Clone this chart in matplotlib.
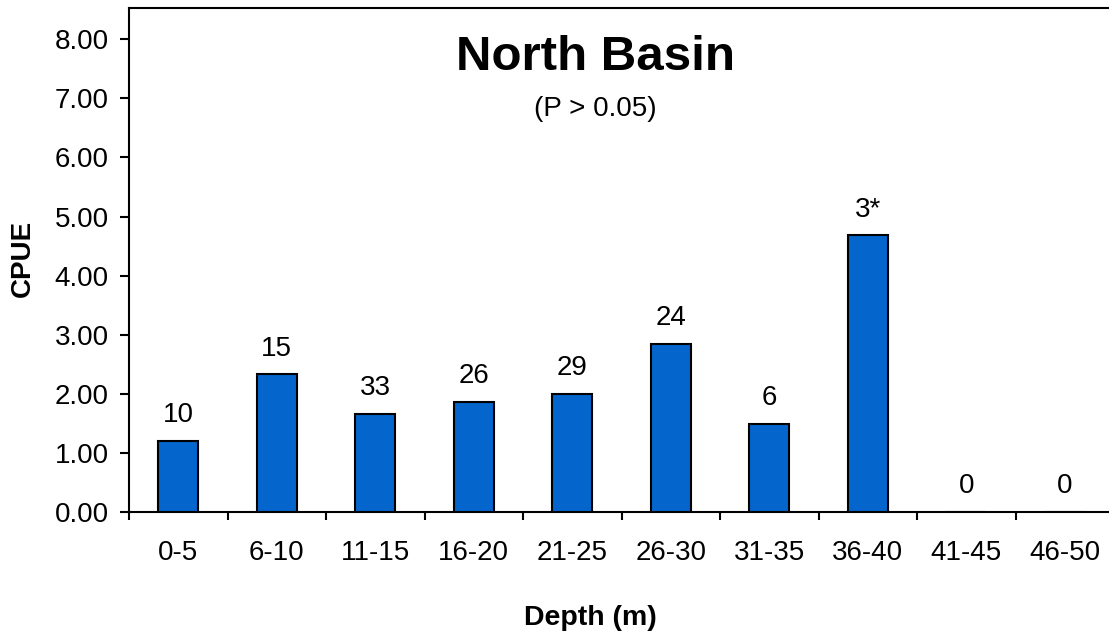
import matplotlib
matplotlib.use("Agg")
import matplotlib.pyplot as plt
import numpy as np

plt.rcParams['font.family'] = ['Liberation Sans', 'DejaVu Sans']

# data
depths = ['0-5', '6-10', '11-15', '16-20', '21-25', '26-30', '31-35', '36-40', '41-45', '46-50']
cpue = [1.21, 2.33, 1.66, 1.86, 2.00, 2.84, 1.49, 4.68, 0.0, 0.0]
n_labels = ['10', '15', '33', '26', '29', '24', '6', '3*', '0', '0']
yticks = [0, 1, 2, 3, 4, 5, 6, 7, 8]

W, H = 1109, 635
fig = plt.figure(figsize=(W / 100, H / 100), dpi=100)
ax = fig.add_axes([129 / W, (H - 512) / H, (1114 - 129) / W, (512 - 8) / H])

x = np.arange(len(depths))
ax.bar(x, cpue, width=0.41, color='#0466cc', edgecolor='black', linewidth=1.5, zorder=3)

for xi, v, lab in zip(x, cpue, n_labels):
    ax.annotate(lab, (xi, v), xytext=(0, 13.5), textcoords='offset points',
                ha='center', va='baseline', fontsize=20)

ax.set_xlim(-0.5, len(depths) - 0.5)
ax.set_ylim(0, 8.53)

ax.set_yticks(yticks)
ax.set_yticklabels([f'{t:.2f}' for t in yticks])
ax.tick_params(axis='y', length=6.5, width=1.5, pad=8, labelsize=20, direction='out')

ax.set_xticks(x)
ax.set_xticklabels(depths)
ax.tick_params(axis='x', which='major', length=0, pad=20, labelsize=20)
ax.set_xticks(np.arange(len(depths) + 1) - 0.5, minor=True)
ax.tick_params(axis='x', which='minor', length=6, width=1.5, direction='out')

for side in ['left', 'bottom', 'top']:
    ax.spines[side].set_linewidth(1.5)
ax.spines['right'].set_visible(False)

ax.set_xlabel('Depth (m)', fontsize=20.5, fontweight='bold')
ax.xaxis.set_label_coords((590 - 129) / 985, -(625 - 512) / 504)
ax.xaxis.label.set_va('baseline')
ax.set_ylabel('CPUE', fontsize=20, fontweight='bold')
ax.yaxis.set_label_coords((23 - 129) / 985, (512 - 258) / 504)
ax.yaxis.label.set_va('center')

fig.text(595 / W, (H - 70) / H, 'North Basin', ha='center', va='baseline',
         fontsize=35.5, fontweight='bold')
fig.text(595 / W, (H - 116) / H, '(P > 0.05)', ha='center', va='baseline', fontsize=20)

fig.savefig('out.png', dpi=100)
